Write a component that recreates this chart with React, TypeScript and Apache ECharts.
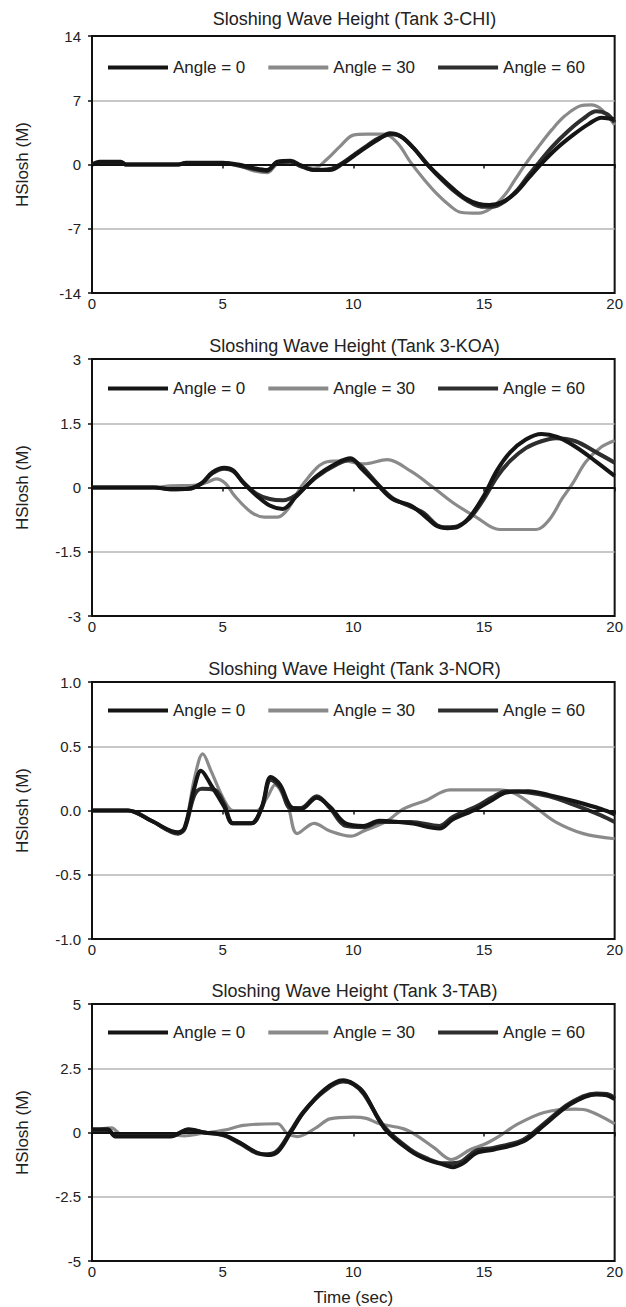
import React, { useEffect, useRef } from "react";
import * as echarts from "echarts";

const FONT = "'Liberation Sans', Arial, Helvetica, sans-serif";

const titles = [
  "Sloshing Wave Height (Tank 3-CHI)",
  "Sloshing Wave Height (Tank 3-KOA)",
  "Sloshing Wave Height (Tank 3-NOR)",
  "Sloshing Wave Height (Tank 3-TAB)",
];
const seriesNames = ["Angle = 0", "Angle = 30", "Angle = 60"];
const yMins = [-14, -3, -1, -5];
const yMaxs = [14, 3, 1, 5];
const yIntervals = [7, 1.5, 0.5, 2.5];
const yDecimals = [0, 1, 1, 1];
const xTicks = [0, 5, 10, 15, 20];
const yLabel = "HSlosh (M)";
const xLabel = "Time (sec)";

// Tank 3-CHI
const chi0 = [[0,0],[0.3,0.3],[1.1,0.3],[1.3,0],[3.3,0],[3.6,0.2],[5,0.2],[5.6,0],[6.2,-0.4],[6.7,-0.6],[7.1,0.3],[7.6,0.4],[8,-0.1],[8.5,-0.6],[9.1,-0.6],[9.6,0.1],[10,0.9],[10.5,1.9],[11,2.8],[11.4,3.4],[11.8,3.1],[12.3,1.8],[12.8,0.1],[13.3,-1.3],[13.8,-2.6],[14.3,-3.7],[14.8,-4.3],[15.2,-4.4],[15.7,-4.1],[16.2,-3.1],[16.7,-1.5],[17.2,0.1],[17.8,1.8],[18.4,3.2],[19,4.4],[19.5,5.1],[20,4.9]];
const chi30 = [[0,0],[0.3,0.2],[1.1,0.2],[1.3,0],[3.3,0],[3.6,0.1],[5,0.1],[5.6,-0.1],[6.2,-0.7],[6.7,-0.9],[7.1,0.1],[7.6,0.3],[8,-0.1],[8.5,-0.4],[9,0.6],[9.5,2.0],[10,3.2],[10.5,3.3],[11.2,3.3],[11.7,2.3],[12.2,0.2],[12.7,-1.6],[13.2,-3.2],[13.7,-4.5],[14.1,-5.2],[14.8,-5.3],[15.3,-4.7],[15.8,-3.3],[16.2,-1.6],[16.6,0.1],[17.1,2.0],[17.6,3.8],[18.1,5.3],[18.7,6.4],[19.1,6.5],[19.5,6.0],[20,4.3]];
const chi60 = [[0,0],[0.3,0.2],[1.1,0.2],[1.3,0],[3.3,0],[3.6,0.15],[5,0.15],[5.6,-0.1],[6.2,-0.5],[6.7,-0.7],[7.1,0.2],[7.6,0.3],[8,-0.2],[8.5,-0.6],[9.1,-0.5],[9.6,0.2],[10,1.0],[10.5,2.0],[11,2.9],[11.5,3.3],[11.9,2.9],[12.4,1.5],[12.9,-0.2],[13.4,-1.7],[13.9,-3.0],[14.4,-4.0],[14.9,-4.6],[15.3,-4.6],[15.8,-4.0],[16.3,-2.7],[16.7,-1.2],[17.1,0.2],[17.6,1.9],[18.2,3.6],[18.8,5.0],[19.3,5.8],[19.7,5.5],[20,4.6]];

// Tank 3-KOA
const koa0 = [[0,0],[2.4,0],[3,-0.04],[3.7,-0.03],[4.2,0.1],[4.6,0.35],[5.06,0.46],[5.4,0.4],[5.8,0.1],[6.3,-0.19],[6.8,-0.42],[7.3,-0.5],[7.8,-0.22],[8.6,0.27],[9.4,0.58],[9.9,0.68],[10.3,0.45],[10.9,0.08],[11.5,-0.27],[12.2,-0.42],[12.7,-0.65],[13.2,-0.9],[13.6,-0.95],[14,-0.92],[14.45,-0.69],[14.96,-0.23],[15.5,0.4],[16,0.82],[16.6,1.12],[17.2,1.25],[17.8,1.18],[18.5,0.95],[19.3,0.6],[20,0.27]];
const koa30 = [[0,0],[2.4,0],[3,0.04],[3.9,0.05],[4.4,0.12],[4.75,0.2],[5.1,0.1],[5.45,-0.19],[6.1,-0.58],[6.6,-0.69],[7.1,-0.69],[7.5,-0.5],[8.1,0.1],[9,0.6],[9.6,0.62],[10.4,0.55],[11.3,0.65],[12.2,0.38],[13.06,0],[13.8,-0.35],[14.7,-0.69],[15.6,-0.98],[17,-0.98],[17.5,-0.75],[18,-0.25],[18.4,0.1],[18.9,0.6],[19.5,0.95],[20,1.1]];
const koa60 = [[0,0],[2.4,0],[3,-0.04],[3.7,-0.03],[4.2,0.1],[4.6,0.33],[5.06,0.44],[5.4,0.38],[5.8,0.12],[6.3,-0.15],[6.8,-0.27],[7.3,-0.3],[7.8,-0.18],[8.6,0.25],[9.4,0.55],[9.9,0.65],[10.3,0.5],[10.9,0.1],[11.5,-0.25],[12.2,-0.45],[12.7,-0.6],[13.2,-0.88],[13.6,-0.93],[14,-0.9],[14.45,-0.72],[14.96,-0.3],[15.5,0.25],[16,0.62],[16.6,0.92],[17.2,1.08],[17.75,1.15],[18.5,1.08],[19.3,0.82],[20,0.58]];

// Tank 3-NOR
const nor0 = [[0,0],[1.38,0],[2.27,-0.08],[3.3,-0.17],[3.55,-0.13],[3.92,0.18],[4.17,0.31],[4.55,0.2],[5.06,0.03],[5.4,-0.1],[6.1,-0.1],[6.5,0.03],[6.84,0.26],[7.2,0.2],[7.6,0.03],[8,0.01],[8.6,0.1],[9.1,0.03],[9.7,-0.1],[10.4,-0.12],[11,-0.08],[12.2,-0.1],[13.3,-0.14],[13.8,-0.07],[14.7,0.01],[15.3,0.08],[15.85,0.14],[16.7,0.15],[17.5,0.12],[18.5,0.07],[19.5,0.01],[20,-0.03]];
const nor30 = [[0,0],[1.38,0],[2.27,-0.08],[3.3,-0.18],[3.55,-0.14],[3.92,0.25],[4.24,0.44],[4.55,0.31],[5.06,0.08],[5.4,0],[6.3,0],[6.7,0.1],[7,0.2],[7.5,0.03],[7.85,-0.18],[8.5,-0.1],[9.1,-0.16],[9.9,-0.2],[10.4,-0.16],[11.3,-0.08],[11.9,0.01],[12.8,0.08],[13.7,0.16],[15.6,0.16],[16.2,0.13],[17,0.02],[17.75,-0.09],[18.8,-0.18],[20,-0.22]];
const nor60 = [[0,0],[1.38,0],[2.27,-0.08],[3.3,-0.18],[3.55,-0.14],[3.92,0.12],[4.2,0.17],[4.7,0.16],[5.06,0.05],[5.4,-0.1],[6.1,-0.1],[6.5,0.02],[6.84,0.24],[7.2,0.18],[7.6,0.02],[8,0.02],[8.6,0.11],[9.1,0.02],[9.7,-0.12],[10.4,-0.13],[11,-0.09],[12.2,-0.09],[13.3,-0.12],[13.8,-0.05],[14.7,0.03],[15.3,0.1],[15.85,0.15],[16.7,0.14],[17.5,0.11],[18.5,0.04],[19.5,-0.04],[20,-0.09]];

// Tank 3-TAB
const tab0 = [[0,0.13],[0.6,0.13],[0.9,-0.16],[3,-0.16],[3.7,0.13],[4.3,0],[5.06,-0.1],[5.7,-0.42],[6.3,-0.78],[6.7,-0.88],[7.1,-0.76],[7.6,0],[8.1,0.79],[8.9,1.67],[9.6,2.03],[10,1.9],[10.4,1.55],[11.2,0.15],[12.2,-0.73],[12.8,-1.05],[13.45,-1.25],[13.8,-1.35],[14.2,-1.2],[14.7,-0.8],[15.35,-0.67],[16.5,-0.35],[17.3,0.28],[18.3,1.1],[19.3,1.48],[19.7,1.45],[20,1.3]];
const tab30 = [[0,0.05],[0.75,0.18],[1.13,-0.08],[2.9,-0.08],[3.54,-0.13],[4.2,-0.04],[5.06,0.09],[5.8,0.28],[7.1,0.34],[7.47,-0.04],[7.85,-0.16],[8.6,0.2],[9.1,0.53],[10,0.6],[10.5,0.55],[11,0.34],[11.9,0.15],[12.4,-0.1],[13.1,-0.6],[13.75,-1.05],[14.5,-0.65],[15.1,-0.42],[15.8,0],[16.2,0.28],[17.3,0.78],[18.5,0.91],[19,0.85],[20,0.34]];
const tab60 = [[0,0.1],[0.6,0.1],[0.9,-0.13],[3,-0.13],[3.7,0.1],[4.3,0],[5.06,-0.12],[5.7,-0.45],[6.3,-0.8],[6.7,-0.85],[7.1,-0.7],[7.6,0.05],[8.1,0.82],[8.9,1.62],[9.6,1.98],[10,1.88],[10.4,1.5],[11.2,0.2],[12.2,-0.68],[12.8,-1.0],[13.45,-1.2],[14,-1.18],[14.7,-0.7],[15.35,-0.6],[16.5,-0.28],[17.3,0.35],[18.3,1.15],[19.3,1.52],[19.7,1.5],[20,1.35]];

const panelData = [
  [chi0, chi30, chi60],
  [koa0, koa30, koa60],
  [nor0, nor30, nor60],
  [tab0, tab30, tab60],
];

// layout (pixels)
const GRID_LEFT = 92;
const GRID_WIDTH = 525;
const GRID_HEIGHT = 257;
const gridTops = [36, 359, 682, 1004];
const titleYs = [19, 346, 669, 991];
const legendCenters = [68, 389, 711, 1033];

const colors = ["#151515", "#8a8a8a", "#2e2e2e"];
const widths = [4, 3.2, 4];
const drawOrder = [1, 2, 0];

export default function App() {
  const ref = useRef<HTMLDivElement>(null);

  useEffect(() => {
    if (!ref.current) return;
    const chart = echarts.init(ref.current, undefined, { renderer: "svg" });

    const grids: any[] = [];
    const xAxes: any[] = [];
    const yAxes: any[] = [];
    const series: any[] = [];
    const legends: any[] = [];
    const graphics: any[] = [];

    for (let p = 0; p < 4; p++) {
      grids.push({
        left: GRID_LEFT,
        top: gridTops[p],
        width: GRID_WIDTH,
        height: GRID_HEIGHT,
        show: true,
        borderColor: "#111",
        borderWidth: 2,
        backgroundColor: "transparent",
      });
      // zero-line axis with ticks
      xAxes.push({
        type: "value",
        gridIndex: p,
        min: xTicks[0],
        max: xTicks[xTicks.length - 1],
        interval: 5,
        position: "bottom",
        axisLine: { show: true, onZero: true, lineStyle: { color: "#111", width: 2 } },
        axisTick: { show: true, length: 4, lineStyle: { color: "#111", width: 1.5 } },
        axisLabel: { show: false },
        splitLine: { show: false },
        z: 5,
      });
      // label axis at the bottom
      xAxes.push({
        type: "value",
        gridIndex: p,
        min: xTicks[0],
        max: xTicks[xTicks.length - 1],
        interval: 5,
        position: "bottom",
        axisLine: { show: false, onZero: false },
        axisTick: { show: false },
        axisLabel: { show: true, fontSize: 15, color: "#222", margin: 3, fontFamily: FONT },
        splitLine: { show: false },
        name: p === 3 ? xLabel : "",
        nameLocation: "middle",
        nameGap: 28,
        nameTextStyle: { fontSize: 17, color: "#222", fontFamily: FONT },
      });
      const dec = yDecimals[p];
      yAxes.push({
        type: "value",
        gridIndex: p,
        min: yMins[p],
        max: yMaxs[p],
        interval: yIntervals[p],
        axisLine: { show: true, onZero: false, lineStyle: { color: "#111", width: 2 } },
        axisTick: { show: true, length: 4, lineStyle: { color: "#111", width: 1.5 } },
        axisLabel: {
          fontSize: 15,
          color: "#222",
          margin: 11,
          fontFamily: FONT,
          formatter: (v: number) => {
            if (dec === 0) return String(Math.round(v));
            if (p === 2) return v.toFixed(1);
            return Number.isInteger(v) ? String(v) : v.toFixed(1);
          },
        },
        splitLine: {
          show: true,
          lineStyle: { color: ["#111", "#b4b4b4"], width: 1.5 },
        },
        name: yLabel,
        nameLocation: "middle",
        nameRotate: 90,
        nameGap: 61,
        nameTextStyle: { fontSize: 17, color: "#222", fontFamily: FONT },
      });
      for (const s of drawOrder) {
        series.push({
          type: "line",
          name: seriesNames[s],
          xAxisIndex: p * 2,
          yAxisIndex: p,
          data: panelData[p][s],
          showSymbol: false,
          symbol: "none",
          smooth: 0.35,
          lineStyle: { color: colors[s], width: widths[s] },
          itemStyle: { color: colors[s] },
          z: 3,
        });
      }
      legends.push({
        top: legendCenters[p] - 9,
        left: 108,
        padding: 0,
        icon: "rect",
        itemWidth: 60,
        itemHeight: 4,
        itemGap: 23,
        selectedMode: false,
        data: seriesNames,
        textStyle: { fontSize: 17, color: "#222", fontFamily: FONT },
      });
      graphics.push({
        type: "text",
        x: GRID_LEFT + GRID_WIDTH / 2,
        y: titleYs[p],
        style: {
          text: titles[p],
          fontSize: 18,
          fontFamily: FONT,
          fill: "#222",
          textAlign: "center",
          textVerticalAlign: "middle",
        },
      });
    }

    chart.setOption({
      animation: false,
      backgroundColor: "#ffffff",
      textStyle: { fontFamily: FONT },
      grid: grids,
      xAxis: xAxes,
      yAxis: yAxes,
      series,
      legend: legends,
      graphic: graphics,
    });

    return () => chart.dispose();
  }, []);

  return (
    <div
      ref={ref}
      style={{ position: "absolute", left: 0, top: 0, width: 626, height: 1307, background: "#fff" }}
    />
  );
}
